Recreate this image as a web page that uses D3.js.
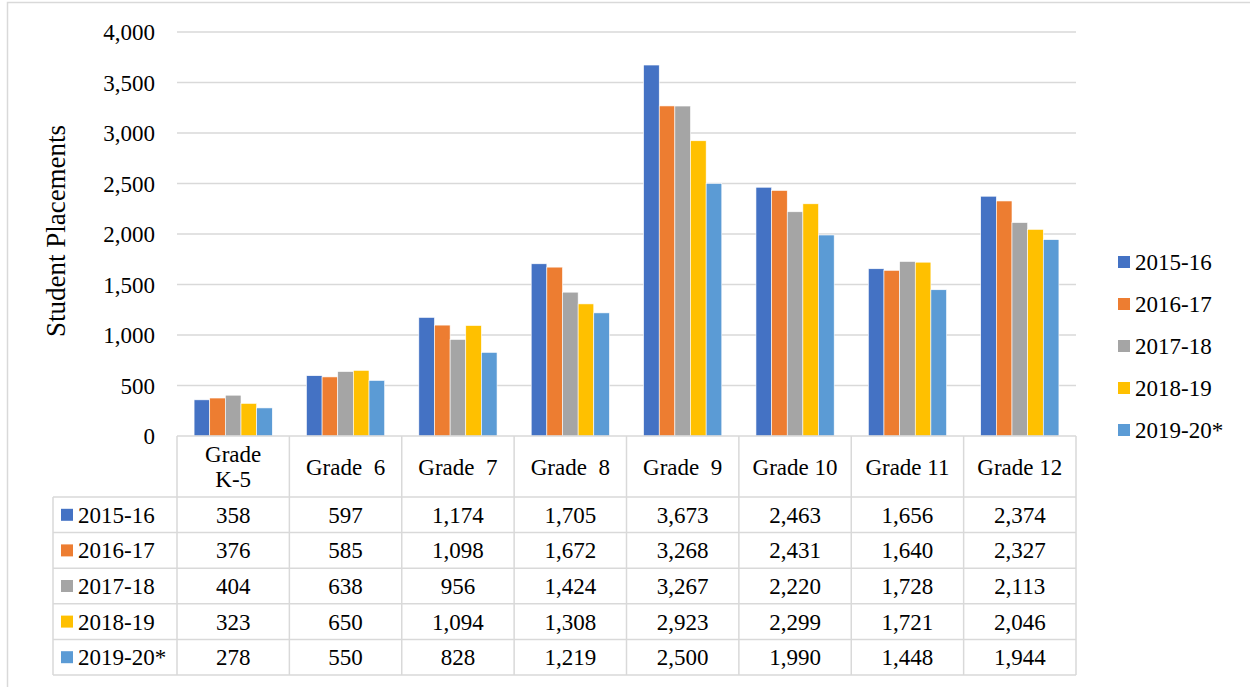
<!DOCTYPE html>
<html><head><meta charset="utf-8">
<script src="https://cdn.jsdelivr.net/npm/d3@7"></script>
<style>
html,body{margin:0;padding:0;background:#fff;}
svg{display:block;}
svg text{font-family:'Liberation Serif','Times New Roman','DejaVu Serif',serif;white-space:pre;}
</style></head>
<body><svg id="c" width="1250" height="687"></svg>
<script>
const categories = ["Grade\nK-5", "Grade  6", "Grade  7", "Grade  8", "Grade  9", "Grade 10", "Grade 11", "Grade 12"];
const seriesNames = ["2015-16", "2016-17", "2017-18", "2018-19", "2019-20*"];
const v2015 = [358, 597, 1174, 1705, 3673, 2463, 1656, 2374];
const v2016 = [376, 585, 1098, 1672, 3268, 2431, 1640, 2327];
const v2017 = [404, 638, 956, 1424, 3267, 2220, 1728, 2113];
const v2018 = [323, 650, 1094, 1308, 2923, 2299, 1721, 2046];
const v2019 = [278, 550, 828, 1219, 2500, 1990, 1448, 1944];
const yTicks = [0, 500, 1000, 1500, 2000, 2500, 3000, 3500, 4000];
const colors = ["#4472C4", "#ED7D31", "#A5A5A5", "#FFC000", "#5B9BD5"];
const seriesValues = [v2015, v2016, v2017, v2018, v2019];

const svg = d3.select("#c");
const L = 177, R = 1076, T = 32, B = 436;
const grid = "#d9d9d9";
const fs = 23;
const FF = "'Liberation Serif','Times New Roman','DejaVu Serif',serif";

// outer border
svg.append("rect").attr("x", 7.5).attr("y", 2.5).attr("width", 1300).attr("height", 700)
  .attr("fill", "#fff").attr("stroke", grid).attr("stroke-width", 1.5);

const y = d3.scaleLinear().domain([0, 4000]).range([B, T]);
const x0 = d3.scaleBand().domain(categories).range([L, R]);
const bw = x0.bandwidth();
const x1 = d3.scaleBand().domain(seriesNames).range([bw * 0.152, bw * 0.848]);

// gridlines
svg.append("g").selectAll("line").data(yTicks.filter(d => d > 0)).join("line")
  .attr("x1", L).attr("x2", R).attr("y1", d => y(d)).attr("y2", d => y(d))
  .attr("stroke", grid).attr("stroke-width", 1.5);

const fmt = d3.format(",");
const T_ = (sel) => sel.attr("font-family", FF).attr("font-size", fs).attr("fill", "#000");

// y axis labels
svg.append("g").selectAll("text").data(yTicks).join("text")
  .attr("x", 155).attr("y", d => y(d)).attr("dy", "0.35em")
  .attr("text-anchor", "end").call(T_)
  .text(d => fmt(d));

// y title
svg.append("text").attr("transform", `translate(56,231) rotate(-90)`)
  .attr("text-anchor", "middle").attr("dy", "0.35em").call(T_).attr("font-size", 27).text("Student Placements");

// bars
seriesNames.forEach((s, si) => {
  svg.append("g").selectAll("rect").data(seriesValues[si]).join("rect")
    .attr("x", (d, i) => x0(categories[i]) + x1(s))
    .attr("width", x1.bandwidth())
    .attr("y", d => y(d)).attr("height", d => B - y(d))
    .attr("fill", colors[si]).attr("stroke", "#fff").attr("stroke-width", 0.6);
});

// table
const headerBottom = 497, rowH = 35.6, tableLeft = 53;
const nRows = seriesNames.length;
const tableBottom = headerBottom + rowH * nRows;
const tg = svg.append("g").attr("stroke", grid).attr("stroke-width", 1.5).attr("fill", "none");
tg.append("line").attr("x1", L).attr("x2", R).attr("y1", B).attr("y2", B);
d3.range(nRows + 1).forEach(r => {
  const yy = headerBottom + r * rowH;
  tg.append("line").attr("x1", tableLeft).attr("x2", R).attr("y1", yy).attr("y2", yy);
});
tg.append("line").attr("x1", tableLeft).attr("x2", tableLeft).attr("y1", headerBottom).attr("y2", tableBottom);
categories.forEach(c => {
  tg.append("line").attr("x1", x0(c)).attr("x2", x0(c)).attr("y1", B).attr("y2", tableBottom);
});
tg.append("line").attr("x1", R).attr("x2", R).attr("y1", B).attr("y2", tableBottom);

// header texts
categories.forEach(c => {
  const lines = c.split("\n");
  const cx = x0(c) + bw / 2, cy = (B + headerBottom) / 2;
  const t = svg.append("text").attr("text-anchor", "middle").call(T_);
  lines.forEach((ln, i) => {
    t.append("tspan").attr("x", cx)
      .attr("y", cy + (i - (lines.length - 1) / 2) * 25).attr("dy", "0.35em").text(ln);
  });
});

// rows
seriesNames.forEach((s, si) => {
  const cy = headerBottom + si * rowH + rowH / 2;
  svg.append("rect").attr("x", 61).attr("y", cy - 6).attr("width", 12).attr("height", 12).attr("fill", colors[si]);
  svg.append("text").attr("x", 78).attr("y", cy).attr("dy", "0.35em").call(T_).text(s);
  svg.append("g").selectAll("text").data(seriesValues[si]).join("text")
    .attr("x", (d, i) => x0(categories[i]) + bw / 2).attr("y", cy).attr("dy", "0.35em")
    .attr("text-anchor", "middle").call(T_).text(d => fmt(d));
});

// legend
seriesNames.forEach((s, si) => {
  const cy = 262 + si * 42;
  svg.append("rect").attr("x", 1118).attr("y", cy - 6).attr("width", 12).attr("height", 12).attr("fill", colors[si]);
  svg.append("text").attr("x", 1135).attr("y", cy).attr("dy", "0.35em").call(T_).text(s);
});
</script></body></html>
